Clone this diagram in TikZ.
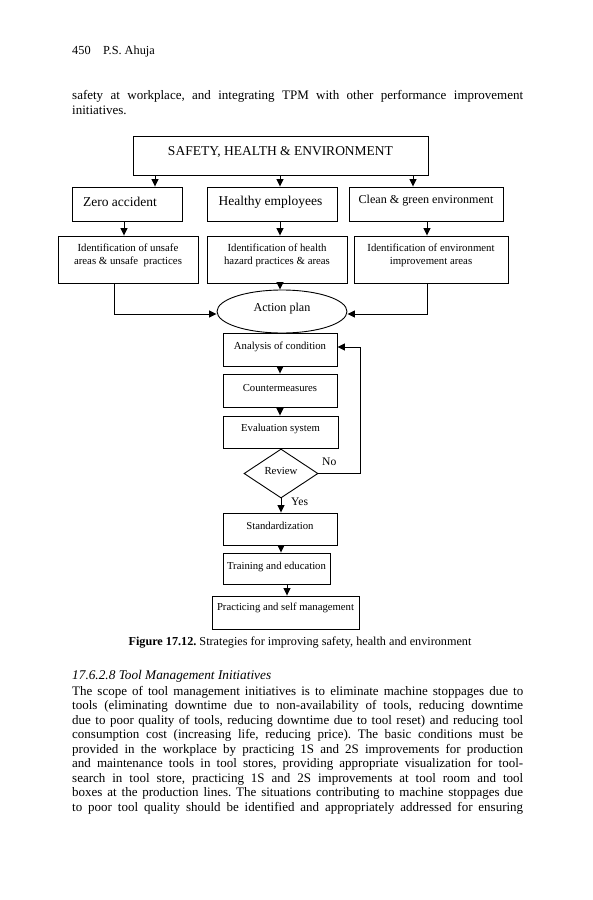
\documentclass[tikz,border=0pt]{standalone}
\usepackage{fontspec}
\setmainfont{Liberation Serif}
\usetikzlibrary{arrows.meta,shapes.geometric}
\newcommand\fsz[1]{\fontsize{#1}{#1}\selectfont}
\newcommand\jline[1]{\makebox[451pt][s]{\spaceskip=0.25em plus 0.3em minus 0.12em\relax #1}}
\begin{document}
\frenchspacing
\begin{tikzpicture}[x=1pt,y=-1pt,
  box/.style={draw,line width=0.9pt,inner sep=0pt},
  arr/.style={line width=0.9pt,-{Triangle[length=7.5pt,width=7pt]}},
  body/.style={anchor=base west,inner sep=0pt,font=\fsz{13}},
  small/.style={font=\fsz{10.8},align=center,inner sep=0pt},
  flow/.style={box,minimum width=114,minimum height=33},
  lbl/.style={font=\fsz{11.6},inner sep=0pt,anchor=base west}]
\useasboundingbox (0,0) rectangle (593,900);
\fill[white] (0,0) rectangle (593,900);

% running head and text
\node[anchor=base west,inner sep=0pt,font=\fsz{12.3}] (pno) at (72,54) {450};
\node[anchor=base west,inner sep=0pt,font=\fsz{12.3}] (auth) at (103,54) {P.S. Ahuja};
\node[body] (p1) at (72,99) {\jline{safety at workplace, and integrating TPM with other performance improvement}};
\node[body] (p2) at (72,114) {initiatives.};

% diagram
\node[box,minimum width=295,minimum height=39,label={[font=\fsz{13.5},yshift=3.5]center:{SAFETY, HEALTH \& ENVIRONMENT}}] (she) at (280.5,155.5) {};
\node[box,minimum width=110,minimum height=34,label={[font=\fsz{13.5},xshift=-7,yshift=2.5]center:{Zero accident}}] (zero) at (127,204) {};
\node[box,minimum width=130,minimum height=34,label={[font=\fsz{13.5},xshift=-1.5,yshift=1.5]center:{Healthy employees}}] (healthy) at (272,204) {};
\node[box,minimum width=154,minimum height=34,label={[font=\fsz{12.1},yshift=3.5]center:{Clean \& green environment}}] (clean) at (426,204) {};

\node[box,minimum width=140,minimum height=47,label={[small,yshift=4.5]center:{Identification of unsafe\\[2pt]areas \& unsafe\ \ practices}}] (id1) at (128,259.5) {};
\node[box,minimum width=140,minimum height=47,label={[small,yshift=4.5]center:{Identification of health\\[2pt]hazard practices \& areas}}] (id2) at (277,259.5) {};
\node[box,minimum width=154,minimum height=47,label={[small,yshift=4.5]center:{Identification of environment\\[2pt]improvement areas}}] (id3) at (431,259.5) {};

\node[draw,ellipse,line width=0.9pt,inner sep=0pt,minimum width=130,minimum height=43,label={[font=\fsz{12.1},yshift=2.5]center:{Action plan}}] (action) at (282,311.5) {};

\node[flow,label={[font=\fsz{10.7},yshift=3]center:{Analysis of condition}}] (anal) at (280,349.5) {};
\node[flow,label={[font=\fsz{10.7},yshift=2.5]center:{Countermeasures}}] (counter) at (280,390.5) {};
\node[flow,minimum width=115,minimum height=32,label={[font=\fsz{10.7},yshift=3.5]center:{Evaluation system}}] (eval) at (280.5,432) {};
\node[draw,diamond,line width=0.9pt,inner sep=0pt,aspect=1.5,minimum width=74,minimum height=49,label={[font=\fsz{10.8},yshift=3]center:{Review}}] (review) at (281,473.5) {};
\node[flow,minimum height=32,label={[font=\fsz{10.7},yshift=3]center:{Standardization}}] (stand) at (280,529) {};
\node[box,minimum width=107,minimum height=31,label={[font=\fsz{10.7},yshift=2]center:{Training and education}}] (train) at (276.5,568.5) {};
\node[box,minimum width=147,minimum height=33,label={[font=\fsz{10.7},yshift=4.5]center:{Practicing and self management}}] (pract) at (285.5,612.5) {};

% connectors
\draw[arr] (155,0 |- she.south) -- (155,0 |- zero.north);
\draw[arr] (280,0 |- she.south) -- (280,0 |- healthy.north);
\draw[arr] (413,0 |- she.south) -- (413,0 |- clean.north);
\draw[arr] (124,0 |- zero.south) -- (124,0 |- id1.north);
\draw[arr] (280,0 |- healthy.south) -- (280,0 |- id2.north);
\draw[arr] (427,0 |- clean.south) -- (427,0 |- id3.north);
\draw[arr] (114,0 |- id1.south) |- ([yshift=-2.5]action.west);
\draw[arr] (427,0 |- id3.south) |- ([yshift=-2.5]action.east);
\draw[arr] (280,0 |- id2.south) -- (280,0 |- action.north);
\draw[arr] (280,0 |- anal.south) -- (280,0 |- counter.north);
\draw[arr] (280,0 |- counter.south) -- (280,0 |- eval.north);
\draw[arr] (review.south) -- (281,0 |- stand.north);
\draw[arr] (281,0 |- stand.south) -- (281,0 |- train.north);
\draw[arr] (287,0 |- train.south) -- (287,0 |- pract.north);
\coordinate (fb) at (360,0);
\draw[arr] (review.east) -- (fb |- review.east) |- ([yshift=2.5]anal.east);
\node[lbl] (no) at (322,465) {No};
\node[lbl] (yes) at (291,505.5) {Yes};

% caption
\node[anchor=base,inner sep=0pt,font=\fsz{12.2}] (cap) at (300,645) {\textbf{Figure 17.12.} Strategies for improving safety, health and environment};

% section
\node[body,font=\fsz{13.3}\itshape] (sec) at (72,679) {17.6.2.8 Tool Management Initiatives};
\node[body] (l1) at (72,695) {\jline{The scope of tool management initiatives is to eliminate machine stoppages due to}};
\node[body] (l2) at (72,709.5) {\jline{tools (eliminating downtime due to non-availability of tools, reducing downtime}};
\node[body] (l3) at (72,724) {\jline{due to poor quality of tools, reducing downtime due to tool reset) and reducing tool}};
\node[body] (l4) at (72,738.5) {\jline{consumption cost (increasing life, reducing price). The basic conditions must be}};
\node[body] (l5) at (72,753) {\jline{provided in the workplace by practicing 1S and 2S improvements for production}};
\node[body] (l6) at (72,767.5) {\jline{and maintenance tools in tool stores, providing appropriate visualization for tool-}};
\node[body] (l7) at (72,782) {\jline{search in tool store, practicing 1S and 2S improvements at tool room and tool}};
\node[body] (l8) at (72,796.5) {\jline{boxes at the production lines. The situations contributing to machine stoppages due}};
\node[body] (l9) at (72,811) {\jline{to poor tool quality should be identified and appropriately addressed for ensuring}};
\end{tikzpicture}
\end{document}
